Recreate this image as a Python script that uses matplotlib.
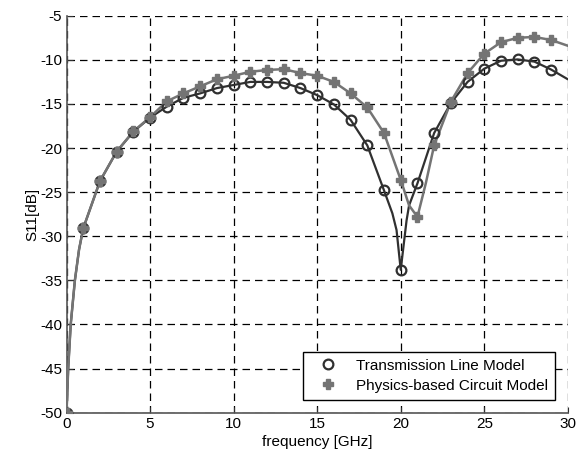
import numpy as np
import matplotlib
matplotlib.use('Agg')
import matplotlib.pyplot as plt

plt.rcParams['font.family'] = ['Liberation Sans', 'DejaVu Sans']
plt.rcParams['axes.unicode_minus'] = False

# marker samples, 1 GHz apart
freq = list(range(0, 30))
s11_tl = [-50.0, -29.1, -23.75, -20.4, -18.15, -16.55, -15.3, -14.3, -13.8, -13.2,
          -12.85, -12.5, -12.5, -12.6, -13.2, -14.0, -15.05, -16.8, -19.7, -24.8,
          -33.8, -24.0, -18.3, -14.9, -12.5, -11.0, -10.1, -9.95, -10.2, -11.1]
s11_pc = [-50.0, -29.1, -23.75, -20.4, -18.1, -16.5, -14.7, -13.8, -13.0, -12.2,
          -11.8, -11.35, -11.15, -11.05, -11.5, -11.8, -12.5, -13.8, -15.4, -18.3,
          -23.6, -27.8, -19.7, -14.75, -11.5, -9.3, -8.0, -7.5, -7.4, -7.75]

# curve traces (extra points near 0 GHz and around the notches)
freq_tl_curve = [0, 0.1, 0.25, 0.5, 0.75] + list(range(1, 20)) + [19.5, 19.75, 20, 20.35, 20.5] + list(range(21, 31))
s11_tl_curve = [-50.0, -45.0, -40.0, -35.0, -31.5] + s11_tl[1:20] + [-27.4, -29.3, -33.8, -28.2, -26.5] + s11_tl[21:] + [-12.2]
freq_pc_curve = [0, 0.1, 0.25, 0.5, 0.75] + list(range(1, 21)) + [20.5, 21, 21.5] + list(range(22, 31))
s11_pc_curve = [-50.0, -45.0, -40.0, -35.0, -31.5] + s11_pc[1:21] + [-26.5, -27.8, -24.0] + s11_pc[22:] + [-8.4]

dark = '#303030'
grey = '#747474'

fig = plt.figure(figsize=(5.8, 4.54), dpi=100)
ax = fig.add_axes([0.1147, 0.091, 0.8643, 0.8743])

ax.plot(freq_tl_curve, s11_tl_curve, color=dark, lw=1.6, zorder=3)
ax.plot(freq_pc_curve, s11_pc_curve, color=grey, lw=1.8, zorder=3)
ax.plot(freq, s11_tl, ls='none', marker='o', ms=7, mfc='none', mec=dark, mew=1.6,
        label='Transmission Line Model', zorder=4)
ax.plot(freq, s11_pc, ls='none', marker='P', ms=6.5, color=grey, mec=grey,
        label='Physics-based Circuit Model', zorder=5)

ax.set_xlim(0, 30)
ax.set_ylim(-50, -5)
ax.set_xticks(np.arange(0, 31, 5))
ax.set_yticks(np.arange(-50, -4, 5))
ax.grid(True, color='black', ls=(0, (6, 4)), lw=0.9)
ax.tick_params(direction='in', labelsize=11, length=4, color=dark, pad=3)
for side in ['top', 'right']:
    ax.spines[side].set_visible(False)
for side in ['left', 'bottom']:
    ax.spines[side].set_color('#555555')
    ax.spines[side].set_linewidth(1.2)

ax.set_xlabel('frequency [GHz]', fontsize=11, labelpad=3)
ax.set_ylabel('S11[dB]', fontsize=11, labelpad=1)

leg = ax.legend(loc='lower right', fontsize=11, frameon=True, fancybox=False,
                edgecolor='black', framealpha=1, borderaxespad=0.85,
                handlelength=2.4, handletextpad=0.6, borderpad=0.45, labelspacing=0.4)
leg.get_frame().set_linewidth(1.0)

fig.savefig('out.png', dpi=100)
